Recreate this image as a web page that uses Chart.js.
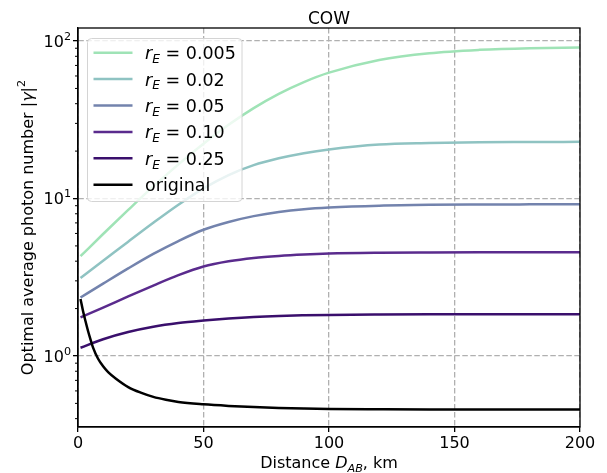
<!DOCTYPE html>
<html><head><meta charset="utf-8">
<script src="https://cdn.jsdelivr.net/npm/chart.js@4.4.0/dist/chart.umd.min.js"></script>
<style>html,body{margin:0;padding:0;background:#fff}</style>
</head><body>
<canvas id="c" width="607" height="473" style="display:block;width:607px;height:473px"></canvas>
<script>
// ---------- data ----------
const distances = [1,10,20,30,40,50,60,70,80,90,100,120,140,160,180,200];
const rE005 = [4.30,5.95,8.46,11.93,16.48,22.3,29.4,37.5,46.2,54.9,63.0,75.8,83.7,87.9,90.1,91.1];
const rE002 = [3.13,4.02,5.32,7.01,9.13,11.6,14.1,16.3,18.0,19.4,20.5,22.0,22.5,22.8,22.85,22.9];
const rE005b = [2.35,2.88,3.60,4.45,5.37,6.33,7.10,7.73,8.22,8.56,8.77,9.01,9.12,9.16,9.18,9.19];
const rE010 = [1.76,2.03,2.39,2.80,3.26,3.70,3.99,4.19,4.32,4.41,4.47,4.52,4.54,4.55,4.55,4.55];
const rE025 = [1.128,1.278,1.419,1.533,1.618,1.679,1.730,1.770,1.797,1.813,1.824,1.834,1.839,1.84,1.84,1.84];
const originalDistances = [1,2,3,4,5,6,8,10,12,15,20,25,30,35,40,50,60,70,80,90,100,120,140,160,180,200];
const original = [2.30,1.93,1.66,1.44,1.27,1.13,0.96,0.86,0.79,0.72,0.635,0.585,0.55,0.527,0.51,0.493,0.482,0.474,0.468,0.464,0.461,0.459,0.458,0.458,0.458,0.458];

const rEValues = ['0.005','0.02','0.05','0.10','0.25'];
const seriesData = [rE005, rE002, rE005b, rE010, rE025, original];
const seriesX = [distances, distances, distances, distances, distances, originalDistances];
const seriesColors = ['#9fe3b6','#8fc3c2','#7383ad','#5a2b8d','#3a0f6c','#000000'];
const legendLabels = rEValues.map(v => [{t:'r',it:true},{t:'E',it:true,sub:true},{t:' = ' + v}]).concat([[{t:'original'}]]);

const xTicks = [0,50,100,150,200];
const yMajorTicks = [1,10,100];
const yTickExponents = ['0','1','2'];
const yMinorTicks = [0.4,0.5,0.6,0.7,0.8,0.9,2,3,4,5,6,7,8,9,20,30,40,50,60,70,80,90];
const titleText = 'COW';
const yTitleParts = [{t:'Optimal average photon number |'},{t:'\u03b3',it:true},{t:'|'},{t:'2',sup:true}];
const xTitleParts = [{t:'Distance '},{t:'D',it:true},{t:'AB',it:true,sub:true},{t:', km'}];

const FONT = '"DejaVu Sans", sans-serif';

function fontFor(p, size){ return (p.it ? 'italic ' : '') + ((p.sub || p.sup) ? (size*0.7).toFixed(1) : size) + 'px ' + FONT; }
function richWidth(ctx, parts, size){
  let w = 0;
  for (const p of parts){ ctx.font = fontFor(p,size); w += ctx.measureText(p.t).width; }
  return w;
}
function richText(ctx, parts, x, y, size, align){
  const w = richWidth(ctx, parts, size);
  let cx = align === 'center' ? x - w/2 : (align === 'right' ? x - w : x);
  ctx.textAlign = 'left'; ctx.textBaseline = 'alphabetic';
  for (const p of parts){
    ctx.font = fontFor(p,size);
    const dy = p.sub ? size*0.22 : (p.sup ? -size*0.45 : 0);
    ctx.fillText(p.t, cx, y + dy);
    cx += ctx.measureText(p.t).width;
  }
}

const decor = {
  id: 'decor',
  afterDraw(chart){
    const {ctx, chartArea:a, scales:{y}} = chart;
    ctx.save();
    ctx.fillStyle = '#000'; ctx.strokeStyle = '#000';
    // minor y ticks
    ctx.lineWidth = 1;
    for (const v of yMinorTicks){
      const py = y.getPixelForValue(v);
      ctx.beginPath(); ctx.moveTo(a.left - 3, py); ctx.lineTo(a.left, py); ctx.stroke();
    }
    // y tick labels 10^k
    yMajorTicks.forEach((v, k) => {
      const py = y.getPixelForValue(v);
      richText(ctx, [{t:'10'},{t:yTickExponents[k],sup:true}], a.left - 7, py + 5.8, 16, 'right');
    });
    // frame
    ctx.lineWidth = 1.3;
    ctx.strokeRect(a.left, a.top, a.right - a.left, a.bottom - a.top);
    // title
    ctx.font = '17px ' + FONT; ctx.textAlign = 'center'; ctx.textBaseline = 'alphabetic';
    ctx.fillText(titleText, (a.left + a.right)/2, 24);
    // x axis title
    richText(ctx, xTitleParts, (a.left + a.right)/2, 468, 16, 'center');
    // y axis title (rotated)
    ctx.save();
    ctx.translate(32.5, (a.top + a.bottom)/2);
    ctx.rotate(-Math.PI/2);
    richText(ctx, yTitleParts, 0, 0, 16, 'center');
    ctx.restore();
    // legend
    const lx = 87.5, ly = 38.5, lw = 154.5, lh = 163;
    ctx.beginPath();
    ctx.roundRect(lx, ly, lw, lh, 4);
    ctx.fillStyle = 'rgba(255,255,255,0.8)'; ctx.fill();
    ctx.lineWidth = 1; ctx.strokeStyle = '#d4d4d4'; ctx.stroke();
    chart.data.datasets.forEach((ds, i) => {
      const ry = 52.7 + i*26.4;
      ctx.strokeStyle = ds.borderColor; ctx.lineWidth = 2.5;
      ctx.beginPath(); ctx.moveTo(93.5, ry); ctx.lineTo(132.5, ry); ctx.stroke();
      ctx.fillStyle = '#000';
      richText(ctx, legendLabels[i], 145, ry + 6.4, 17.5, 'left');
    });
    ctx.restore();
  }
};

const datasets = seriesData.map((arr, i) => ({
  label: legendLabels[i].map(p => p.t).join(''),
  data: seriesX[i].map((d, j) => ({x: d, y: arr[j]})),
  borderColor: seriesColors[i],
  backgroundColor: seriesColors[i],
  borderWidth: 2.5,
  pointRadius: 0,
  fill: false,
  cubicInterpolationMode: 'monotone',
  order: seriesData.length - i
}));

new Chart(document.getElementById('c'), {
  type: 'line',
  data: { datasets },
  plugins: [decor],
  options: {
    responsive: false,
    animation: false,
    devicePixelRatio: 1,
    layout: { padding: { top: 28, right: 27, left: 0, bottom: 0 } },
    plugins: { legend: { display: false }, title: { display: false }, tooltip: { enabled: false } },
    scales: {
      x: {
        type: 'linear', min: 0, max: 200,
        afterBuildTicks: s => { s.ticks = xTicks.map(v => ({value: v})); },
        afterFit: s => { s.height = 46; s.paddingLeft = 0; s.paddingRight = 0; },
        ticks: { color: '#000', font: { family: FONT, size: 16 }, padding: 2, maxRotation: 0, autoSkip: false },
        grid: { color: '#b0b0b0', lineWidth: 1.3, tickColor: '#000', tickLength: 5, tickWidth: 1.3 },
        border: { display: true, color: '#000', width: 1.3, dash: [5.5, 2.5] }
      },
      y: {
        type: 'logarithmic', min: 0.354, max: 121,
        afterBuildTicks: s => { s.ticks = yMinorTicks.concat(yMajorTicks).sort((a,b)=>a-b).map(v => ({value: v})); },
        afterFit: s => { s.width = 78; s.paddingTop = 0; s.paddingBottom = 0; },
        ticks: { color: '#000', font: { family: FONT, size: 16 }, padding: 2, autoSkip: false, callback: () => '' },
        grid: {
          color: c => yMajorTicks.includes(c.tick && c.tick.value) ? '#b0b0b0' : 'rgba(0,0,0,0)',
          tickColor: c => yMajorTicks.includes(c.tick && c.tick.value) ? '#000' : 'rgba(0,0,0,0)',
          lineWidth: 1.3, tickLength: 5, tickWidth: 1.3
        },
        border: { display: true, color: '#000', width: 1.3, dash: [5.5, 2.5] },
        title: { display: false }
      }
    }
  }
});
</script>
</body></html>
